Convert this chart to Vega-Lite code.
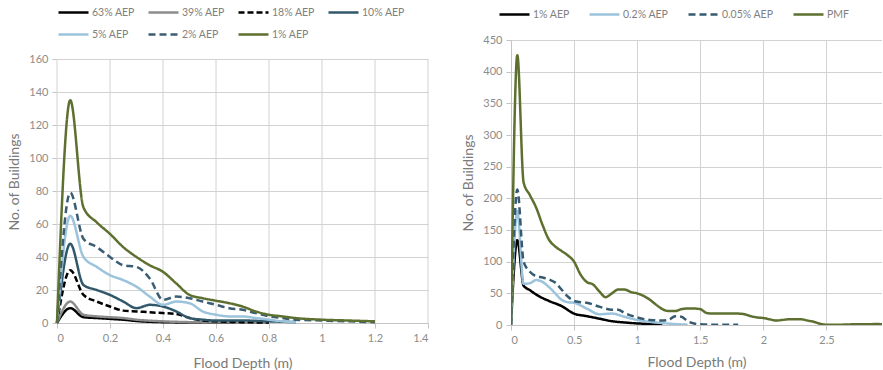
{
  "$schema": "https://vega.github.io/schema/vega-lite/v6.json",
  "padding": {"left": 7, "top": -4, "right": 0, "bottom": 0},
  "spacing": 32,
  "config": {
    "font": "Lato",
    "view": {"stroke": null},
    "axis": {
      "gridColor": "#d2d2d2",
      "domainColor": "#c4c4c4",
      "tickColor": "#c4c4c4",
      "labelColor": "#8c8c8c",
      "labelFontSize": 11,
      "titleColor": "#7a7a7a",
      "titleFontSize": 14,
      "titleFontWeight": "normal",
      "tickSize": 5,
      "labelPadding": 4,
      "labelExpr": "'' + datum.value"
    },
    "line": {"strokeWidth": 2.5, "interpolate": "monotone"}
  },
  "datasets": {
    "leftgrid": [
      {"depth": 0, "lo": 0, "hi": 160},
      {"depth": 0.2, "lo": 0, "hi": 160},
      {"depth": 0.4, "lo": 0, "hi": 160},
      {"depth": 0.6, "lo": 0, "hi": 160},
      {"depth": 0.8, "lo": 0, "hi": 160},
      {"depth": 1.0, "lo": 0, "hi": 160},
      {"depth": 1.2, "lo": 0, "hi": 160},
      {"depth": 1.4, "lo": 0, "hi": 160}
    ],
    "left": [
      {"series": "63% AEP", "depth": 0, "count": 0},
      {"series": "63% AEP", "depth": 0.05, "count": 9},
      {"series": "63% AEP", "depth": 0.1, "count": 3.5},
      {"series": "63% AEP", "depth": 0.15, "count": 3},
      {"series": "63% AEP", "depth": 0.2, "count": 2.5},
      {"series": "63% AEP", "depth": 0.25, "count": 2},
      {"series": "63% AEP", "depth": 0.3, "count": 1.2},
      {"series": "63% AEP", "depth": 0.4, "count": 0.5},
      {"series": "63% AEP", "depth": 0.5, "count": 0.3},
      {"series": "63% AEP", "depth": 0.6, "count": 0.2},
      {"series": "63% AEP", "depth": 0.7, "count": 0.1},
      {"series": "39% AEP", "depth": 0, "count": 0},
      {"series": "39% AEP", "depth": 0.05, "count": 13},
      {"series": "39% AEP", "depth": 0.1, "count": 5},
      {"series": "39% AEP", "depth": 0.15, "count": 4},
      {"series": "39% AEP", "depth": 0.2, "count": 3.5},
      {"series": "39% AEP", "depth": 0.25, "count": 3},
      {"series": "39% AEP", "depth": 0.3, "count": 2},
      {"series": "39% AEP", "depth": 0.4, "count": 1},
      {"series": "39% AEP", "depth": 0.5, "count": 0.5},
      {"series": "39% AEP", "depth": 0.6, "count": 0.3},
      {"series": "39% AEP", "depth": 0.7, "count": 0.2},
      {"series": "39% AEP", "depth": 0.8, "count": 0.1},
      {"series": "18% AEP", "depth": 0, "count": 0},
      {"series": "18% AEP", "depth": 0.05, "count": 32},
      {"series": "18% AEP", "depth": 0.1, "count": 17},
      {"series": "18% AEP", "depth": 0.15, "count": 13},
      {"series": "18% AEP", "depth": 0.2, "count": 10},
      {"series": "18% AEP", "depth": 0.25, "count": 7.5},
      {"series": "18% AEP", "depth": 0.3, "count": 7},
      {"series": "18% AEP", "depth": 0.35, "count": 6.5},
      {"series": "18% AEP", "depth": 0.4, "count": 6},
      {"series": "18% AEP", "depth": 0.45, "count": 5.5},
      {"series": "18% AEP", "depth": 0.5, "count": 3},
      {"series": "18% AEP", "depth": 0.55, "count": 1.5},
      {"series": "18% AEP", "depth": 0.6, "count": 1},
      {"series": "18% AEP", "depth": 0.7, "count": 0.5},
      {"series": "18% AEP", "depth": 0.8, "count": 0.3},
      {"series": "10% AEP", "depth": 0, "count": 0},
      {"series": "10% AEP", "depth": 0.05, "count": 48},
      {"series": "10% AEP", "depth": 0.1, "count": 23},
      {"series": "10% AEP", "depth": 0.15, "count": 20},
      {"series": "10% AEP", "depth": 0.2, "count": 17},
      {"series": "10% AEP", "depth": 0.25, "count": 13},
      {"series": "10% AEP", "depth": 0.3, "count": 9},
      {"series": "10% AEP", "depth": 0.35, "count": 11},
      {"series": "10% AEP", "depth": 0.4, "count": 10},
      {"series": "10% AEP", "depth": 0.45, "count": 7},
      {"series": "10% AEP", "depth": 0.5, "count": 3},
      {"series": "10% AEP", "depth": 0.55, "count": 2},
      {"series": "10% AEP", "depth": 0.6, "count": 1.5},
      {"series": "10% AEP", "depth": 0.7, "count": 1.5},
      {"series": "10% AEP", "depth": 0.8, "count": 1},
      {"series": "10% AEP", "depth": 0.9, "count": 0.5},
      {"series": "5% AEP", "depth": 0, "count": 0},
      {"series": "5% AEP", "depth": 0.05, "count": 65},
      {"series": "5% AEP", "depth": 0.1, "count": 40},
      {"series": "5% AEP", "depth": 0.15, "count": 34},
      {"series": "5% AEP", "depth": 0.2, "count": 29},
      {"series": "5% AEP", "depth": 0.25, "count": 26},
      {"series": "5% AEP", "depth": 0.3, "count": 22},
      {"series": "5% AEP", "depth": 0.35, "count": 16},
      {"series": "5% AEP", "depth": 0.4, "count": 11},
      {"series": "5% AEP", "depth": 0.45, "count": 13},
      {"series": "5% AEP", "depth": 0.5, "count": 12},
      {"series": "5% AEP", "depth": 0.55, "count": 7},
      {"series": "5% AEP", "depth": 0.6, "count": 5},
      {"series": "5% AEP", "depth": 0.65, "count": 4},
      {"series": "5% AEP", "depth": 0.7, "count": 4},
      {"series": "5% AEP", "depth": 0.75, "count": 3},
      {"series": "5% AEP", "depth": 0.8, "count": 2},
      {"series": "5% AEP", "depth": 0.85, "count": 1},
      {"series": "5% AEP", "depth": 0.9, "count": 0.5},
      {"series": "2% AEP", "depth": 0, "count": 0},
      {"series": "2% AEP", "depth": 0.05, "count": 79},
      {"series": "2% AEP", "depth": 0.1, "count": 51},
      {"series": "2% AEP", "depth": 0.15, "count": 46},
      {"series": "2% AEP", "depth": 0.2, "count": 40},
      {"series": "2% AEP", "depth": 0.25, "count": 35},
      {"series": "2% AEP", "depth": 0.3, "count": 34},
      {"series": "2% AEP", "depth": 0.35, "count": 27},
      {"series": "2% AEP", "depth": 0.4, "count": 14},
      {"series": "2% AEP", "depth": 0.45, "count": 16},
      {"series": "2% AEP", "depth": 0.5, "count": 15},
      {"series": "2% AEP", "depth": 0.55, "count": 13},
      {"series": "2% AEP", "depth": 0.6, "count": 11},
      {"series": "2% AEP", "depth": 0.65, "count": 9},
      {"series": "2% AEP", "depth": 0.7, "count": 8},
      {"series": "2% AEP", "depth": 0.75, "count": 6},
      {"series": "2% AEP", "depth": 0.8, "count": 4},
      {"series": "2% AEP", "depth": 0.85, "count": 3},
      {"series": "2% AEP", "depth": 0.9, "count": 2},
      {"series": "2% AEP", "depth": 1.0, "count": 1.5},
      {"series": "2% AEP", "depth": 1.1, "count": 1},
      {"series": "2% AEP", "depth": 1.2, "count": 0.5},
      {"series": "1% AEP", "depth": 0, "count": 0},
      {"series": "1% AEP", "depth": 0.05, "count": 135},
      {"series": "1% AEP", "depth": 0.1, "count": 70},
      {"series": "1% AEP", "depth": 0.15, "count": 61},
      {"series": "1% AEP", "depth": 0.2, "count": 54},
      {"series": "1% AEP", "depth": 0.25, "count": 46},
      {"series": "1% AEP", "depth": 0.3, "count": 40},
      {"series": "1% AEP", "depth": 0.35, "count": 35},
      {"series": "1% AEP", "depth": 0.4, "count": 31},
      {"series": "1% AEP", "depth": 0.45, "count": 24},
      {"series": "1% AEP", "depth": 0.5, "count": 17},
      {"series": "1% AEP", "depth": 0.55, "count": 15},
      {"series": "1% AEP", "depth": 0.6, "count": 13.5},
      {"series": "1% AEP", "depth": 0.65, "count": 12},
      {"series": "1% AEP", "depth": 0.7, "count": 10},
      {"series": "1% AEP", "depth": 0.75, "count": 7},
      {"series": "1% AEP", "depth": 0.8, "count": 5},
      {"series": "1% AEP", "depth": 0.85, "count": 4},
      {"series": "1% AEP", "depth": 0.9, "count": 3},
      {"series": "1% AEP", "depth": 1.0, "count": 2},
      {"series": "1% AEP", "depth": 1.1, "count": 1.5},
      {"series": "1% AEP", "depth": 1.2, "count": 1}
    ],
    "right": [
      {"series": "1% AEP", "depth": 0, "count": 0},
      {"series": "1% AEP", "depth": 0.05, "count": 134},
      {"series": "1% AEP", "depth": 0.1, "count": 62},
      {"series": "1% AEP", "depth": 0.15, "count": 55},
      {"series": "1% AEP", "depth": 0.2, "count": 48},
      {"series": "1% AEP", "depth": 0.3, "count": 38},
      {"series": "1% AEP", "depth": 0.4, "count": 30},
      {"series": "1% AEP", "depth": 0.5, "count": 18},
      {"series": "1% AEP", "depth": 0.6, "count": 14},
      {"series": "1% AEP", "depth": 0.7, "count": 10},
      {"series": "1% AEP", "depth": 0.8, "count": 6},
      {"series": "1% AEP", "depth": 0.9, "count": 4},
      {"series": "1% AEP", "depth": 1.0, "count": 2.5},
      {"series": "1% AEP", "depth": 1.1, "count": 1.5},
      {"series": "1% AEP", "depth": 1.2, "count": 0.5},
      {"series": "0.2% AEP", "depth": 0, "count": 0},
      {"series": "0.2% AEP", "depth": 0.05, "count": 180},
      {"series": "0.2% AEP", "depth": 0.1, "count": 65},
      {"series": "0.2% AEP", "depth": 0.15, "count": 66},
      {"series": "0.2% AEP", "depth": 0.2, "count": 71},
      {"series": "0.2% AEP", "depth": 0.25, "count": 68},
      {"series": "0.2% AEP", "depth": 0.3, "count": 60},
      {"series": "0.2% AEP", "depth": 0.35, "count": 50},
      {"series": "0.2% AEP", "depth": 0.4, "count": 40},
      {"series": "0.2% AEP", "depth": 0.45, "count": 36},
      {"series": "0.2% AEP", "depth": 0.5, "count": 35},
      {"series": "0.2% AEP", "depth": 0.6, "count": 26},
      {"series": "0.2% AEP", "depth": 0.7, "count": 17},
      {"series": "0.2% AEP", "depth": 0.8, "count": 18},
      {"series": "0.2% AEP", "depth": 0.9, "count": 13},
      {"series": "0.2% AEP", "depth": 1.0, "count": 8},
      {"series": "0.2% AEP", "depth": 1.1, "count": 5},
      {"series": "0.2% AEP", "depth": 1.2, "count": 3},
      {"series": "0.2% AEP", "depth": 1.3, "count": 1.5},
      {"series": "0.2% AEP", "depth": 1.4, "count": 0.5},
      {"series": "0.05% AEP", "depth": 0, "count": 0},
      {"series": "0.05% AEP", "depth": 0.05, "count": 214},
      {"series": "0.05% AEP", "depth": 0.1, "count": 100},
      {"series": "0.05% AEP", "depth": 0.15, "count": 84},
      {"series": "0.05% AEP", "depth": 0.2, "count": 77},
      {"series": "0.05% AEP", "depth": 0.25, "count": 75},
      {"series": "0.05% AEP", "depth": 0.3, "count": 72},
      {"series": "0.05% AEP", "depth": 0.35, "count": 67},
      {"series": "0.05% AEP", "depth": 0.4, "count": 56},
      {"series": "0.05% AEP", "depth": 0.45, "count": 45},
      {"series": "0.05% AEP", "depth": 0.5, "count": 38},
      {"series": "0.05% AEP", "depth": 0.55, "count": 36},
      {"series": "0.05% AEP", "depth": 0.6, "count": 35},
      {"series": "0.05% AEP", "depth": 0.7, "count": 29},
      {"series": "0.05% AEP", "depth": 0.8, "count": 24},
      {"series": "0.05% AEP", "depth": 0.85, "count": 24},
      {"series": "0.05% AEP", "depth": 0.9, "count": 19},
      {"series": "0.05% AEP", "depth": 1.0, "count": 12},
      {"series": "0.05% AEP", "depth": 1.1, "count": 8},
      {"series": "0.05% AEP", "depth": 1.2, "count": 7},
      {"series": "0.05% AEP", "depth": 1.25, "count": 8},
      {"series": "0.05% AEP", "depth": 1.3, "count": 14},
      {"series": "0.05% AEP", "depth": 1.35, "count": 13},
      {"series": "0.05% AEP", "depth": 1.4, "count": 6},
      {"series": "0.05% AEP", "depth": 1.5, "count": 1},
      {"series": "0.05% AEP", "depth": 1.6, "count": 0.5},
      {"series": "0.05% AEP", "depth": 1.7, "count": 0.5},
      {"series": "0.05% AEP", "depth": 1.8, "count": 0.5},
      {"series": "PMF", "depth": 0, "count": 0},
      {"series": "PMF", "depth": 0.05, "count": 426},
      {"series": "PMF", "depth": 0.1, "count": 225},
      {"series": "PMF", "depth": 0.15, "count": 205},
      {"series": "PMF", "depth": 0.2, "count": 185},
      {"series": "PMF", "depth": 0.25, "count": 158},
      {"series": "PMF", "depth": 0.3, "count": 135},
      {"series": "PMF", "depth": 0.35, "count": 124},
      {"series": "PMF", "depth": 0.4, "count": 117},
      {"series": "PMF", "depth": 0.45, "count": 110},
      {"series": "PMF", "depth": 0.5, "count": 100},
      {"series": "PMF", "depth": 0.55, "count": 80},
      {"series": "PMF", "depth": 0.6, "count": 68},
      {"series": "PMF", "depth": 0.65, "count": 64},
      {"series": "PMF", "depth": 0.7, "count": 53},
      {"series": "PMF", "depth": 0.75, "count": 44},
      {"series": "PMF", "depth": 0.8, "count": 50},
      {"series": "PMF", "depth": 0.85, "count": 56},
      {"series": "PMF", "depth": 0.9, "count": 56},
      {"series": "PMF", "depth": 0.95, "count": 52},
      {"series": "PMF", "depth": 1.0, "count": 50},
      {"series": "PMF", "depth": 1.05, "count": 46},
      {"series": "PMF", "depth": 1.1, "count": 40},
      {"series": "PMF", "depth": 1.15, "count": 32},
      {"series": "PMF", "depth": 1.2, "count": 25},
      {"series": "PMF", "depth": 1.25, "count": 22},
      {"series": "PMF", "depth": 1.3, "count": 22},
      {"series": "PMF", "depth": 1.35, "count": 25},
      {"series": "PMF", "depth": 1.4, "count": 26},
      {"series": "PMF", "depth": 1.45, "count": 26},
      {"series": "PMF", "depth": 1.5, "count": 25},
      {"series": "PMF", "depth": 1.55, "count": 19},
      {"series": "PMF", "depth": 1.6, "count": 18},
      {"series": "PMF", "depth": 1.7, "count": 18},
      {"series": "PMF", "depth": 1.8, "count": 18},
      {"series": "PMF", "depth": 1.85, "count": 17},
      {"series": "PMF", "depth": 1.9, "count": 14},
      {"series": "PMF", "depth": 1.95, "count": 12},
      {"series": "PMF", "depth": 2.0, "count": 11},
      {"series": "PMF", "depth": 2.05, "count": 9},
      {"series": "PMF", "depth": 2.1, "count": 7},
      {"series": "PMF", "depth": 2.15, "count": 8},
      {"series": "PMF", "depth": 2.2, "count": 9},
      {"series": "PMF", "depth": 2.3, "count": 9},
      {"series": "PMF", "depth": 2.35, "count": 7},
      {"series": "PMF", "depth": 2.4, "count": 5},
      {"series": "PMF", "depth": 2.45, "count": 2},
      {"series": "PMF", "depth": 2.5, "count": 0.5},
      {"series": "PMF", "depth": 2.6, "count": 0.5},
      {"series": "PMF", "depth": 2.7, "count": 1},
      {"series": "PMF", "depth": 2.8, "count": 1},
      {"series": "PMF", "depth": 2.9, "count": 1.5},
      {"series": "PMF", "depth": 2.95, "count": 1}
    ]
  },
  "resolve": {"scale": {"color": "independent", "strokeDash": "independent", "x": "independent", "y": "independent"}},
  "hconcat": [
    {
      "width": 371,
      "height": 283,
      "layer": [
        {
          "data": {"name": "leftgrid"},
          "mark": {"type": "rule", "color": "#d2d2d2", "strokeWidth": 1},
          "encoding": {
            "x": {"field": "depth", "type": "quantitative", "scale": {"domain": [0, 1.4], "nice": false}, "axis": {"values": [0, 0.2, 0.4, 0.6, 0.8, 1, 1.2, 1.4], "title": "Flood Depth (m)", "titlePadding": 13, "grid": false}},
            "y": {"field": "lo", "type": "quantitative", "scale": {"domain": [0, 171.52], "nice": false}, "axis": {"values": [0, 20, 40, 60, 80, 100, 120, 140, 160], "title": "No. of Buildings", "titlePadding": 7, "domain": false}},
            "y2": {"field": "hi"}
          }
        },
        {
          "data": {"name": "left"},
          "mark": {"type": "line"},
          "encoding": {
            "x": {"field": "depth", "type": "quantitative", "scale": {"domain": [0, 1.4], "nice": false}, "axis": {"values": [0, 0.2, 0.4, 0.6, 0.8, 1, 1.2, 1.4], "title": "Flood Depth (m)", "titlePadding": 13, "grid": false}},
            "y": {"field": "count", "type": "quantitative", "scale": {"domain": [0, 171.52], "nice": false}, "axis": {"values": [0, 20, 40, 60, 80, 100, 120, 140, 160], "title": "No. of Buildings", "titlePadding": 7, "domain": false}},
            "color": {"field": "series", "type": "nominal", "scale": {"domain": ["63% AEP", "39% AEP", "18% AEP", "10% AEP", "5% AEP", "2% AEP", "1% AEP"], "range": ["#000000", "#8c8c8c", "#000000", "#31586a", "#9cc3dc", "#3b5d73", "#5e7030"]},
              "legend": {"title": null, "orient": "none", "direction": "horizontal", "legendX": 0, "legendY": -44, "columns": 4, "columnPadding": 8, "rowPadding": -6, "symbolType": "stroke", "symbolSize": 900, "symbolStrokeWidth": 3, "labelFontSize": 10.5, "labelColor": "#7f7f7f", "labelOffset": 2}},
            "strokeDash": {"field": "series", "type": "nominal", "scale": {"domain": ["63% AEP", "39% AEP", "18% AEP", "10% AEP", "5% AEP", "2% AEP", "1% AEP"], "range": [[1, 0], [1, 0], [6, 3], [1, 0], [1, 0], [7, 4], [1, 0]]},
              "legend": {"title": null, "orient": "none", "direction": "horizontal", "legendX": 0, "legendY": -44, "columns": 4, "columnPadding": 8, "rowPadding": -6, "symbolType": "stroke", "symbolSize": 900, "symbolStrokeWidth": 3, "labelFontSize": 10.5, "labelColor": "#7f7f7f", "labelOffset": 2}}
          }
        }
      ]
    },
    {
      "width": 371,
      "height": 285,
      "data": {"name": "right"},
      "mark": {"type": "line", "clip": true},
      "encoding": {
        "x": {"field": "depth", "type": "quantitative", "scale": {"domain": [0, 2.94], "nice": false}, "axis": {"values": [0, 0.5, 1, 1.5, 2, 2.5], "title": "Flood Depth (m)", "titlePadding": 10}},
        "y": {"field": "count", "type": "quantitative", "scale": {"domain": [0, 450], "nice": false}, "axis": {"values": [0, 50, 100, 150, 200, 250, 300, 350, 400, 450], "title": "No. of Buildings", "titlePadding": 7}},
        "color": {"field": "series", "type": "nominal", "scale": {"domain": ["1% AEP", "0.2% AEP", "0.05% AEP", "PMF"], "range": ["#000000", "#9cc3dc", "#365a70", "#5e7030"]},
          "legend": {"title": null, "orient": "none", "direction": "horizontal", "legendX": -13, "legendY": -42, "columns": 4, "columnPadding": 14, "symbolType": "stroke", "symbolSize": 900, "symbolStrokeWidth": 3, "labelFontSize": 10.5, "labelColor": "#7f7f7f", "labelOffset": 2}},
        "strokeDash": {"field": "series", "type": "nominal", "scale": {"domain": ["1% AEP", "0.2% AEP", "0.05% AEP", "PMF"], "range": [[1, 0], [1, 0], [7, 4], [1, 0]]},
          "legend": {"title": null, "orient": "none", "direction": "horizontal", "legendX": -13, "legendY": -42, "columns": 4, "columnPadding": 14, "symbolType": "stroke", "symbolSize": 900, "symbolStrokeWidth": 3, "labelFontSize": 10.5, "labelColor": "#7f7f7f", "labelOffset": 2}}
      }
    }
  ]
}
